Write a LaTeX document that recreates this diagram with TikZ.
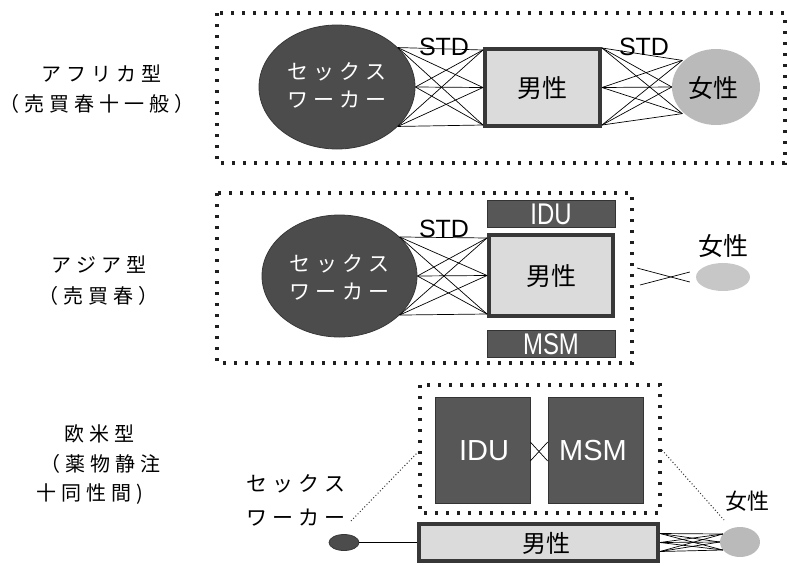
\documentclass[tikz,border=0pt]{standalone}
\usepackage{fontspec}
\setmainfont{Liberation Sans}
\newfontfamily\jp[LetterSpace=25]{Noto Sans CJK JP}
\newfontfamily\jpn{Noto Sans CJK JP}
\usetikzlibrary{shapes.geometric,calc}
\begin{document}
\begin{tikzpicture}[x=1pt,y=-1pt,
  dotbox/.style={draw=black!88, line width=3.4pt, dash pattern=on 3.4pt off 7.6pt},
  swork/.style={ellipse, draw=black!78, line width=0.8pt, fill=black!70, inner sep=0pt},
  malebox/.style={rectangle, draw=black!78, line width=4pt, fill=black!14, inner sep=0pt},
  femell/.style={ellipse, fill=black!27, inner sep=0pt},
  riskbox/.style={rectangle, fill=black!66, draw=black!80, line width=0.6pt, inner sep=0pt},
  link/.style={draw=black, line width=0.7pt},
  dotlink/.style={draw=black!80, line width=1pt, dash pattern=on 1pt off 2.2pt},
  jlabel/.style={font=\jp\fontsize{20}{24}\selectfont, inner sep=0pt},
  wlabel/.style={font=\jp\fontsize{21}{25}\selectfont, text=white, inner sep=0pt},
  blabel/.style={font=\jpn\fontsize{25}{28}\selectfont, inner sep=0pt},
  stdlabel/.style={font=\fontsize{25}{28}\selectfont, inner sep=0pt},
  risklabel/.style={font=\fontsize{26}{28}\selectfont, text=white, inner sep=0pt, xscale=0.92, yscale=1.15},
  risklabelb/.style={font=\fontsize{29}{32}\selectfont, text=white, inner sep=0pt}
]
\useasboundingbox (0,0) rectangle (789,565);

% ---------- left labels ----------
\node[jlabel] (t1a) at (101,74) {アフリカ型};
\node[jlabel] (t1b) at (97,104) {（売買春十一般）};
\node[jlabel] (t2a) at (99,265) {アジア型};
\node[jlabel] (t2b) at (98,296) {（売買春）};
\node[jlabel] (t3a) at (99,434) {欧米型};
\node[jlabel] (t3b) at (100,464) {（薬物静注};
\node[jlabel] (t3c) at (90,494) {十同性間)};

% ---------- panel 1 : Africa ----------
\draw[dotbox] (217,13) rectangle (785,163);
\node[swork, minimum width=156, minimum height=124] (sw1) at (337,87) {};
\node[wlabel] (sw1a) at (337,72) {セックス};
\node[wlabel] (sw1b) at (337,100) {ワーカー};
\node[malebox, minimum width=115, minimum height=77] (m1) at (542.5,87.5) {};
\node[blabel] (m1t) at (542.5,88) {男性};
\node[femell, minimum width=88, minimum height=76] (f1) at (716,87) {};
\node[blabel] (f1t) at (713,88) {女性};
\node[stdlabel] (std1) at (444,47) {STD};
\node[stdlabel] (std2) at (644,47) {STD};

\coordinate (a1) at (sw1.33);
\coordinate (a2) at (sw1.east);
\coordinate (a3) at (sw1.-33);
\coordinate (b1) at ([yshift=-3pt]m1.north west);
\coordinate (b2) at (m1.west);
\coordinate (b3) at ([yshift=3pt]m1.south west);
\foreach \i in {1,2,3}{\foreach \j in {1,2,3}{\draw[link] (a\i) -- (b\j);}}

\coordinate (c1) at ([yshift=-1pt]m1.north east);
\coordinate (c2) at (m1.east);
\coordinate (c3) at ([yshift=3pt]m1.south east);
\coordinate (d1) at ([xshift=-2pt]f1.140);
\coordinate (d2) at ([xshift=0pt]f1.west);
\coordinate (d3) at ([xshift=-2pt]f1.220);
\foreach \i in {1,2,3}{\foreach \j in {1,2,3}{\draw[link] (c\i) -- (d\j);}}

% ---------- panel 2 : Asia ----------
\draw[dotbox] (217,193) rectangle (632,363);
\node[swork, minimum width=155, minimum height=122] (sw2) at (339.5,276) {};
\node[wlabel] (sw2a) at (339.5,264) {セックス};
\node[wlabel] (sw2b) at (339.5,292) {ワーカー};
\node[riskbox, minimum width=128, minimum height=27] (idu2) at (551,213.5) {};
\node[risklabel] (idu2t) at (551,214) {IDU};
\node[malebox, minimum width=124, minimum height=81] (m2) at (551,275.5) {};
\node[blabel] (m2t) at (551,276) {男性};
\node[riskbox, minimum width=128, minimum height=27] (msm2) at (551,343.5) {};
\node[risklabel] (msm2t) at (551,344) {MSM};
\node[stdlabel] (std3) at (444,229) {STD};

\coordinate (e1) at (sw2.33);
\coordinate (e2) at (sw2.east);
\coordinate (e3) at (sw2.-33);
\coordinate (g1) at ([yshift=-5pt]m2.north west);
\coordinate (g2) at (m2.west);
\coordinate (g3) at ([yshift=4pt]m2.south west);
\foreach \i in {1,2,3}{\foreach \j in {1,2,3}{\draw[link] (e\i) -- (g\j);}}

\node[femell, fill=black!22, minimum width=54, minimum height=28] (f2) at (723,277) {};
\node[blabel] (f2t) at (723,246) {女性};
\coordinate (h1) at (637,268);
\coordinate (h2) at (640,285);
\draw[link] (h1) -- ([xshift=-6pt,yshift=-5pt]f2.west);
\draw[link] (h2) -- ([xshift=-6pt,yshift=5pt]f2.west);

% ---------- panel 3 : Europe / America ----------
\draw[dotbox] (420,385) rectangle (660,513);
\node[riskbox, minimum width=95, minimum height=106] (idu3) at (482.5,450) {};
\node[risklabelb] (idu3t) at (484,451) {IDU};
\node[riskbox, minimum width=95, minimum height=106] (msm3) at (595.5,450) {};
\node[risklabelb] (msm3t) at (593,451) {MSM};
\draw[link] ([yshift=8pt]idu3.east) -- ([yshift=-11pt]msm3.west);
\draw[link] ([yshift=-11pt]idu3.east) -- ([yshift=8pt]msm3.west);

\node[malebox, minimum width=239, minimum height=37] (m3) at (538.5,542.5) {};
\node[blabel, font=\jpn\fontsize{24}{28}\selectfont] (m3t) at (546,543) {男性};
\node[swork, minimum width=30, minimum height=16] (sw3) at (344,542.5) {};
\draw[link] (sw3.east) -- (m3.west);
\node[jlabel, font=\jp\fontsize{21}{25}\selectfont] (sw3a) at (296,484) {セックス};
\node[jlabel, font=\jp\fontsize{21}{25}\selectfont] (sw3b) at (296,518) {ワーカー};
\coordinate (k1) at (351,521);
\coordinate (k2) at (418,452);
\draw[dotlink] (k1) -- (k2);

\node[femell, minimum width=40, minimum height=30] (f3) at (740,542) {};
\node[blabel, font=\jpn\fontsize{22}{26}\selectfont] (f3t) at (747,501) {女性};
\coordinate (k3) at (662,450);
\coordinate (k4) at (724,520);
\draw[dotlink] (k3) -- (k4);

\coordinate (p1) at ([yshift=-9pt]m3.east);
\coordinate (p2) at (m3.east);
\coordinate (p3) at ([yshift=9pt]m3.east);
\coordinate (q1) at ([xshift=3pt,yshift=8pt]f3.west);
\coordinate (q2) at (f3.west);
\coordinate (q3) at ([xshift=3pt,yshift=-8pt]f3.west);
\foreach \i in {1,2,3}{\foreach \j in {1,2,3}{\draw[link] (p\i) -- (q\j);}}
\end{tikzpicture}
\end{document}
